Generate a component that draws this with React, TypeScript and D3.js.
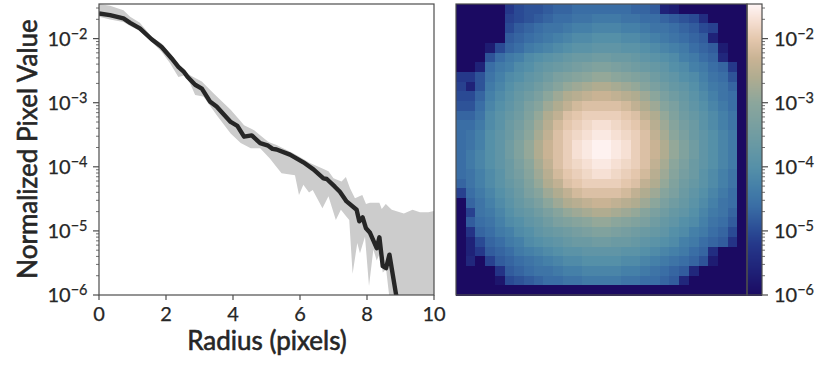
import React from "react";
import * as d3 from "d3";

// radial profile, log10 of normalized pixel value
const medR = [0,0.33,0.73,0.93,1.22,1.57,1.87,2.17,2.37,2.52,2.64,2.87,3.07,3.31,3.51,3.93,4.13,4.33,4.56,4.81,5.05,5.18,5.3,5.7,6.1,6.4,6.7,6.8,7.04,7.19,7.39,7.69,7.77,7.87,7.97,8.09,8.29,8.37,8.47,8.57,8.67,8.87,9.0];
const medV = [-1.607,-1.634,-1.685,-1.754,-1.84,-2.01,-2.13,-2.31,-2.44,-2.51,-2.595,-2.72,-2.78,-2.98,-3.06,-3.3,-3.36,-3.53,-3.51,-3.63,-3.67,-3.72,-3.73,-3.81,-3.93,-4.04,-4.18,-4.19,-4.31,-4.39,-4.54,-4.67,-4.85,-4.79,-4.96,-5.03,-5.27,-5.1,-5.55,-5.58,-5.37,-6,-6.3];
const upR = [0,0.33,0.73,0.93,1.22,1.57,1.87,2.17,2.37,2.72,3.07,3.41,3.93,4.33,4.63,5.05,5.3,5.8,6.3,6.85,7,7.24,7.37,7.49,7.64,7.86,7.97,8.09,8.37,8.44,8.56,8.74,9.1,9.36,9.58,9.83,10];
const upV = [-1.46,-1.489,-1.556,-1.66,-1.754,-1.97,-2.075,-2.257,-2.41,-2.57,-2.67,-2.85,-3.11,-3.35,-3.43,-3.61,-3.66,-3.79,-3.94,-4.07,-4.18,-4.23,-4.16,-4.33,-4.49,-4.44,-4.58,-4.56,-4.56,-4.66,-4.58,-4.67,-4.73,-4.67,-4.71,-4.71,-4.69];
const loR = [0,0.33,0.73,0.93,1.22,1.57,1.87,2.12,2.37,2.56,2.72,2.87,3.12,3.51,3.93,4.23,4.53,4.81,5.1,5.45,5.85,5.97,6.1,6.27,6.38,6.67,6.85,7.07,7.22,7.47,7.57,7.71,7.79,7.94,8.06,8.19,8.29,8.39,8.47,8.57,8.66,8.7,10];
const loV = [-1.66,-1.7,-1.74,-1.805,-1.88,-2.05,-2.205,-2.386,-2.6,-2.57,-2.7,-2.88,-2.906,-3.19,-3.48,-3.63,-3.71,-3.71,-3.87,-4.1,-4.13,-4.44,-4.28,-4.4,-4.36,-4.645,-4.46,-4.83,-4.67,-4.83,-5.67,-5.19,-5.35,-5.09,-5.86,-5.29,-5.46,-5.34,-5.65,-5.6,-6,-7,-7];

// image cells: minus ten times log10 of the value, 60 = floor
const cells = [
[60,60,60,60,60,52,50,49,49,48,47,47,46,46,46,46,46,46,47,47,48,56,57,60,60,60,60,60,60,60],
[60,60,60,60,60,51,50,49,48,47,46,46,45,45,44,44,44,45,45,46,46,47,48,49,50,54,60,60,60,60],
[60,60,60,60,60,50,48,47,46,45,45,44,43,43,42,42,42,43,43,44,45,45,46,47,48,50,51,60,60,60],
[60,60,60,60,60,48,47,46,45,44,43,42,41,41,40,40,40,41,41,42,43,44,45,46,47,48,56,60,60,60],
[60,60,60,57,50,47,46,44,43,42,41,40,39,39,38,38,38,39,39,40,41,42,43,44,46,47,48,57,60,60],
[60,60,60,49,46,44,43,41,40,39,38,37,36,36,35,35,36,36,37,38,39,40,41,43,44,46,47,55,60,60],
[60,60,56,46,44,43,41,40,38,37,36,35,34,33,32,32,33,34,35,36,37,38,40,41,43,44,46,47,52,60],
[52,52,49,45,43,41,40,38,37,35,33,32,31,30,29,29,30,31,32,33,35,37,38,40,41,43,45,46,49,60],
[51,56,49,44,42,40,38,37,35,33,31,29,28,27,26,26,27,28,29,31,33,35,37,38,40,42,44,45,47,60],
[50,50,47,43,41,39,37,35,33,30,28,26,25,24,23,23,24,25,26,28,30,33,35,37,39,41,43,45,46,60],
[49,49,46,42,40,38,36,33,31,28,26,24,22,21,21,21,21,22,24,26,28,31,33,36,38,40,42,44,46,60],
[47,47,45,41,39,37,35,32,29,26,24,21,20,19,19,19,19,20,21,24,26,29,32,35,37,39,41,43,45,60],
[46,46,44,41,39,36,34,31,28,25,22,20,19,18,17,17,18,19,20,22,25,28,31,34,36,39,41,43,45,60],
[46,45,43,40,38,36,33,30,27,24,21,19,18,17,16,16,17,18,19,21,24,27,30,33,36,38,40,42,44,60],
[46,45,43,40,38,35,32,29,26,23,21,19,17,16,15,15,16,17,19,21,23,26,29,32,35,38,40,42,44,60],
[46,44,42,40,38,35,32,29,26,23,21,19,17,16,15,15,16,17,19,21,23,26,29,32,35,38,40,42,44,60],
[46,44,42,40,38,36,33,30,27,24,21,19,18,17,16,16,17,18,19,21,24,27,30,33,36,38,40,42,44,60],
[46,45,43,41,39,36,34,31,28,25,22,20,19,18,17,17,18,19,20,22,25,28,31,34,36,39,41,43,45,60],
[47,45,43,41,39,37,35,32,29,26,24,21,20,19,19,19,19,20,21,24,26,29,32,35,37,39,41,43,45,60],
[51,46,44,42,40,38,36,33,31,28,26,24,22,21,21,21,21,22,24,26,28,31,33,36,38,40,42,44,46,60],
[60,47,45,43,41,39,37,35,33,30,28,26,25,24,23,23,24,25,26,28,30,33,35,37,39,41,43,45,46,60],
[60,51,45,44,42,40,38,37,35,33,31,29,28,27,26,26,27,28,29,31,33,35,37,38,40,42,44,45,47,60],
[60,48,46,45,43,41,40,38,37,35,33,32,31,30,29,29,30,31,32,33,35,37,38,40,41,43,45,46,48,60],
[60,53,47,46,44,43,41,40,38,37,36,35,34,33,32,32,33,34,35,36,37,38,40,41,43,44,46,47,50,60],
[60,56,50,47,46,44,43,41,40,39,38,37,36,36,35,35,36,36,37,38,39,40,41,43,44,46,47,48,53,60],
[60,56,52,48,47,46,44,43,42,41,40,39,39,38,38,38,38,39,39,40,41,42,43,44,46,47,54,60,60,60],
[60,55,60,51,48,47,46,45,44,43,42,41,41,40,40,40,40,41,41,42,43,44,45,46,47,49,57,60,60,60],
[60,60,60,60,53,48,47,46,45,45,44,43,43,42,42,42,42,43,43,44,45,46,47,48,55,60,60,60,60,60],
[60,60,60,60,58,50,49,48,47,46,46,45,45,44,44,44,44,45,45,46,46,47,48,55,60,60,60,60,60,60],
[60,60,60,60,60,60,60,60,60,60,60,60,60,60,60,60,60,60,60,60,60,60,60,60,60,60,60,60,60,60],
];

const xTicks = [0,2,4,6,8,10];
const expTicks = [-2,-3,-4,-5,-6];

// colormap anchors, bottom of the colour bar to its top
const cmapStops = [-6,-5.6,-5.2,-5,-4.6,-4.3,-4,-3.6,-3,-2.6,-2.3,-2,-1.7,-1.46];
const cmapColors = ["#1b0a62","#1f2278","#25388a","#2a4a94","#3a6ea5","#4580a8","#5590a8","#6b9aa3","#8ba69c","#b0ac90","#c9b394","#e4c7ad","#f6e0d4","#fff5f5"];

const W = 830, H = 369;
const L = { x0: 99, x1: 434, y0: 4, y1: 295 };
const IM = { x0: 456, x1: 747, y0: 4, y1: 295 };
const CB = { x0: 747, x1: 762 };
const INK = "#262626";
const SPINE = "#4d4d4d";
const FONT = "Lato, sans-serif";

const Exp = ({ x, y, e }: { x: number; y: number; e: number }) => (
  <text x={x} y={y + 7} fontSize={20} fill={INK} stroke={INK} strokeWidth={0.25} textAnchor="end" fontFamily={FONT}>
    10<tspan fontSize={14.5} dy={-7}>{"\u2212" + Math.abs(e)}</tspan>
  </text>
);

export default function App() {
  const x = d3.scaleLinear().domain([0, 10]).range([L.x0, L.x1]);
  const y = d3.scaleLinear().domain([-6, -1.46]).range([L.y1, L.y0]);
  const color = d3.scaleLinear<string>().domain(cmapStops).range(cmapColors).interpolate(d3.interpolateRgb).clamp(true);
  const nC = cells[0].length, nR = cells.length;
  const bx = d3.scaleBand<number>().domain(d3.range(nC)).range([IM.x0, IM.x1]);
  const by = d3.scaleBand<number>().domain(d3.range(nR)).range([IM.y0, IM.y1]);

  const band = d3.area<number>().x(d => x(d));
  const merged = Array.from(new Set([...upR, ...loR])).sort((a, b) => a - b);
  const upI = d3.scaleLinear().domain(upR).range(upV);
  const loI = d3.scaleLinear().domain(loR).range(loV);
  band.y0(d => y(loI(d))).y1(d => y(upI(d)));

  const line = d3.line<number>().x(d => x(medR[d])).y(d => y(medV[d]));

  const minors: number[] = [];
  for (let e = -6; e < -1; e++) for (let m = 2; m < 10; m++) {
    const v = e + Math.log10(m);
    if (v <= -1.46) minors.push(v);
  }
  const stripe = d3.range(0, 291).map(i => -6 + (i / 291) * 4.54);

  return (
    <svg width={W} height={H} style={{ position: "absolute", left: 0, top: 0 }}>
      <defs>
        <clipPath id="lc"><rect x={L.x0} y={L.y0} width={L.x1 - L.x0} height={L.y1 - L.y0} /></clipPath>
      </defs>
      <g clipPath="url(#lc)">
        <path d={band(merged) || ""} fill="#cccccc" />
        <path d={line(d3.range(medR.length)) || ""} fill="none" stroke={INK} strokeWidth={4.4} strokeLinejoin="round" />
      </g>
      <rect x={L.x0} y={L.y0} width={L.x1 - L.x0} height={L.y1 - L.y0} fill="none" stroke={SPINE} strokeWidth={1.2} />
      {xTicks.map(t => (
        <g key={t}>
          <line x1={x(t)} x2={x(t)} y1={L.y1} y2={L.y1 + 5} stroke={SPINE} strokeWidth={1.2} />
          <text x={x(t)} y={321} fontSize={20} textAnchor="middle" fill={INK} stroke={INK} strokeWidth={0.25} fontFamily={FONT}>{t}</text>
        </g>
      ))}
      {expTicks.map(e => (
        <g key={e}>
          <line x1={L.x0 - 6} x2={L.x0} y1={y(e)} y2={y(e)} stroke={SPINE} strokeWidth={1.2} />
          <Exp x={87.5} y={y(e)} e={e} />
        </g>
      ))}
      {minors.map(v => (
        <line key={v} x1={L.x0 - 3} x2={L.x0} y1={y(v)} y2={y(v)} stroke={SPINE} strokeWidth={0.8} />
      ))}
      <text x={267} y={350} fontSize={26} textAnchor="middle" fill={INK} stroke={INK} strokeWidth={0.6} fontFamily={FONT}>Radius (pixels)</text>
      <text transform="translate(37,149) rotate(-90)" fontSize={26} textAnchor="middle" fill={INK} stroke={INK} strokeWidth={0.6} fontFamily={FONT}>Normalized Pixel Value</text>

      <g shapeRendering="crispEdges">
        {cells.map((row, r) => row.map((v, c) => (
          <rect key={r + "-" + c} x={bx(c)} y={by(r)} width={bx.bandwidth() + 0.5} height={by.bandwidth() + 0.5} fill={color(-v / 10)} />
        )))}
        {stripe.map(v => (
          <rect key={v} x={CB.x0} y={y(v) - 1} width={CB.x1 - CB.x0} height={1.5} fill={color(v)} />
        ))}
      </g>
      <rect x={IM.x0} y={IM.y0} width={IM.x1 - IM.x0} height={IM.y1 - IM.y0} fill="none" stroke={SPINE} strokeWidth={1.2} />
      <rect x={CB.x0} y={L.y0} width={CB.x1 - CB.x0} height={L.y1 - L.y0} fill="none" stroke={SPINE} strokeWidth={1.2} />
      {expTicks.map(e => (
        <g key={e}>
          <line x1={CB.x1} x2={CB.x1 + 6} y1={y(e)} y2={y(e)} stroke={SPINE} strokeWidth={1.2} />
          <Exp x={814} y={y(e)} e={e} />
        </g>
      ))}
      {minors.map(v => (
        <line key={v} x1={CB.x1} x2={CB.x1 + 3} y1={y(v)} y2={y(v)} stroke={SPINE} strokeWidth={0.8} />
      ))}
    </svg>
  );
}
